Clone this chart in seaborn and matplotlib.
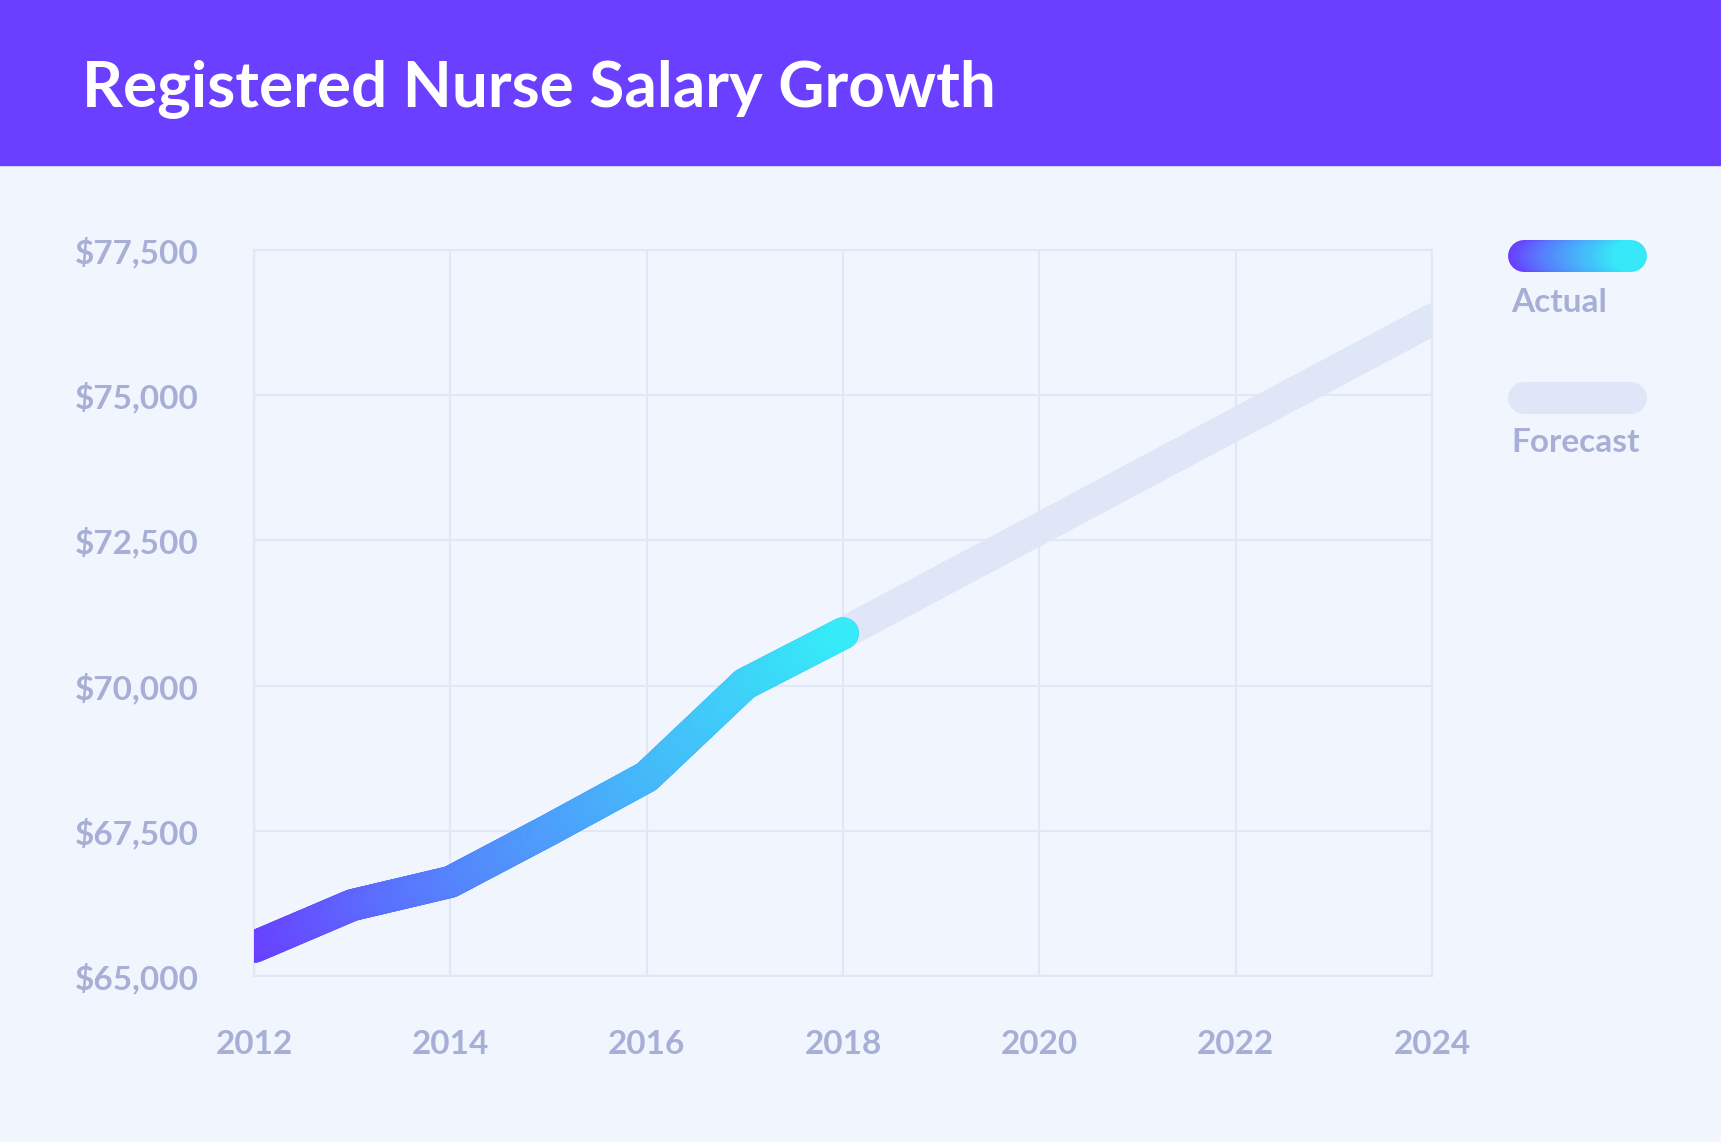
import numpy as np
import seaborn as sns
import matplotlib
matplotlib.use('Agg')
from matplotlib import pyplot as plt
from matplotlib.collections import LineCollection
from matplotlib.colors import LinearSegmentedColormap
from matplotlib.patches import Rectangle

# data
years_actual = [2012, 2013, 2014, 2015, 2016, 2017, 2018]
salary_actual = [65500, 66220, 66620, 67510, 68430, 70030, 70900]
years_forecast = [2018, 2024]
salary_forecast = [70900, 76300]
x_ticks = [2012, 2014, 2016, 2018, 2020, 2022, 2024]
y_ticks = [65000, 67500, 70000, 72500, 75000, 77500]
series_names = ['Actual', 'Forecast']
title = 'Registered Nurse Salary Growth'

BG = '#F1F6FE'
HEADER = '#6A3FFF'
GRID = '#E1E7F5'
LABEL = '#A7AFD6'
FORECAST = '#DFE6F7'
grad = LinearSegmentedColormap.from_list('grad', ['#6A3DFF', '#5A72FE', '#4E9CFB', '#42C3F9', '#36EAF8'])

W, H = 1721, 1142
LW = 23


def gradient_line(ax, xs, ys, lw, zorder=4):
    '''draw a polyline with a left-to-right colour gradient'''
    pts = []
    for i in range(len(xs) - 1):
        t = np.linspace(0, 1, 40, endpoint=False)
        pts.append(np.column_stack([xs[i] + t * (xs[i + 1] - xs[i]),
                                    ys[i] + t * (ys[i + 1] - ys[i])]))
    pts.append(np.array([[xs[-1], ys[-1]]]))
    pts = np.vstack(pts)
    segs = np.stack([pts[:-1], pts[1:]], axis=1)
    pos = (segs[:, :, 0].mean(axis=1) - xs[0]) / (xs[-1] - xs[0])
    lc = LineCollection(segs, colors=grad(pos), linewidths=lw,
                        capstyle='round', joinstyle='round', zorder=zorder)
    ax.add_collection(lc)
    return lc


sns.set_theme(style='white')
plt.rcParams['font.family'] = ['Lato', 'DejaVu Sans']

fig = plt.figure(figsize=(W / 100, H / 100), dpi=100, facecolor=BG)
ax = fig.add_axes([254 / W, 1 - 976 / H, (1432 - 254) / W, (976 - 250) / H])
ax.set_facecolor(BG)

# forecast first, actual on top
sns.lineplot(x=years_forecast, y=salary_forecast, ax=ax, color=FORECAST,
             linewidth=LW, solid_capstyle='round', zorder=2)
sns.lineplot(x=years_actual, y=salary_actual, ax=ax, color='#4FA0FB',
             linewidth=LW, solid_capstyle='round', solid_joinstyle='round', zorder=3)
gradient_line(ax, years_actual, salary_actual, LW)

ax.set_xlim(2012, 2024)
ax.set_ylim(65000, 77500)
ax.set_xticks(x_ticks)
ax.set_yticks(y_ticks)
ax.set_xticklabels([str(x) for x in x_ticks])
ax.set_yticklabels([f'${v:,}' for v in y_ticks])
ax.set_xlabel('')
ax.set_ylabel('')
ax.grid(True, color=GRID, linewidth=1.6)
ax.set_axisbelow(True)
for s in ax.spines.values():
    s.set_color(GRID)
    s.set_linewidth(1.6)
ax.tick_params(axis='both', length=0, labelsize=24, labelcolor=LABEL)
ax.tick_params(axis='x', pad=39)
ax.tick_params(axis='y', pad=40)
for lab in ax.get_xticklabels() + ax.get_yticklabels():
    lab.set_fontweight('bold')

# overlay in pixel coords for header and legend
ov = fig.add_axes([0, 0, 1, 1])
ov.set_xlim(0, W)
ov.set_ylim(H, 0)
ov.axis('off')
ov.patch.set_visible(False)
ov.add_patch(Rectangle((0, 0), W, 165, color=HEADER, zorder=1))
ov.text(82, 106, title, color='white', fontsize=46, fontweight='bold',
        ha='left', va='baseline', zorder=2)

# legend
gradient_line(ov, [1524, 1631], [256, 256], LW)
ov.plot([1524, 1631], [398, 398], color=FORECAST, linewidth=LW, solid_capstyle='round')
ov.text(1511, 302, series_names[0], color=LABEL, fontsize=24, fontweight='bold',
        ha='left', va='center')
ov.text(1511, 442, series_names[1], color=LABEL, fontsize=24, fontweight='bold',
        ha='left', va='center')

fig.savefig('out.png', dpi=100, facecolor=BG)
